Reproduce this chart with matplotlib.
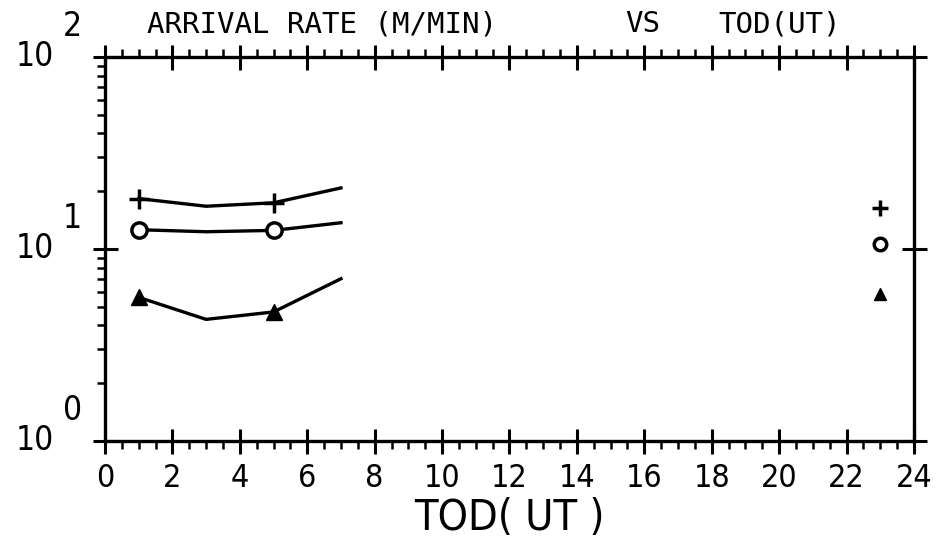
import numpy as np
import matplotlib
matplotlib.use("Agg")
import matplotlib.pyplot as plt
from matplotlib.ticker import MultipleLocator, LogLocator, NullFormatter
import matplotlib.transforms as mtransforms

# values
tod = [1, 3, 5, 7]
rate_plus = [18.3, 16.7, 17.4, 20.8]
rate_circle = [12.6, 12.3, 12.5, 13.7]
rate_triangle = [5.6, 4.3, 4.7, 7.0]

side_tod = 23
side_rates = [16.4, 10.6, 5.8]
side_markers = ['+', 'o', '^']

x_ticks = list(range(0, 25, 2))
y_exponents = [0, 1, 2]

W, H = 943, 546
fig = plt.figure(figsize=(W / 100, H / 100), dpi=100)
ax = fig.add_axes([105 / W, 1 - 441 / H, (914 - 105) / W, (441 - 57) / H])

ink = 'black'
lw = 2.4
ax.plot(tod, rate_plus, color=ink, lw=lw, marker='+', ms=15, mew=2.5,
        markevery=[0, 2])
ax.plot(tod, rate_circle, color=ink, lw=lw, marker='o', ms=11, mew=2.5,
        mfc='white', markevery=[0, 2])
ax.plot(tod, rate_triangle, color=ink, lw=lw, marker='^', ms=11,
        markevery=[0, 2])

for val, mk in zip(side_rates, side_markers):
    if mk == 'o':
        ax.plot([side_tod], [val], marker=mk, ms=9, mew=2.5, mfc='white', color=ink)
    elif mk == '+':
        ax.plot([side_tod], [val], marker=mk, ms=11, mew=2.5, color=ink)
    else:
        ax.plot([side_tod], [val], marker=mk, ms=8, color=ink)

ax.set_yscale('log')
ax.set_xlim(0, 24)
ax.set_ylim(1, 100)

for s in ax.spines.values():
    s.set_linewidth(2.4)

ax.xaxis.set_major_locator(MultipleLocator(2))
ax.xaxis.set_minor_locator(MultipleLocator(0.5))
ax.yaxis.set_major_locator(LogLocator(base=10, numticks=5))
ax.yaxis.set_minor_locator(LogLocator(base=10, subs=np.arange(2, 10), numticks=10))
ax.yaxis.set_minor_formatter(NullFormatter())

ax.tick_params(which='major', direction='inout', length=18, width=2.2,
               top=True, right=True, bottom=True, left=True)
ax.tick_params(which='minor', direction='out', length=6, width=1.8,
               top=True, bottom=True, left=True, right=False)
ax.tick_params(axis='x', which='major', labelsize=23, pad=7)
ax.set_xticks(x_ticks)
ax.set_xticklabels([str(t) for t in x_ticks], fontfamily='DejaVu Sans',
                   fontstretch='condensed')
ax.set_yticklabels([])

# y labels drawn as 10 with a big raised exponent, like the plotter did
trans = mtransforms.blended_transform_factory(fig.transFigure, ax.transData)
for e in y_exponents:
    ax.text(16 / W, 10 ** e, '10', transform=trans, fontsize=24,
            ha='left', va='center', clip_on=False, fontstretch='condensed')
    off = mtransforms.offset_copy(trans, fig=fig, x=0, y=30, units='dots')
    ax.text(63 / W, 10 ** e, str(e), transform=off, fontsize=24,
            ha='left', va='center', clip_on=False, fontstretch='condensed')

ax.set_xlabel('TOD( UT )', fontsize=31, labelpad=2, fontstretch='condensed')

title_y = 1 - 24 / H
for txt, xpix in [('ARRIVAL RATE (M/MIN)', 147), ('VS', 625), ('TOD(UT)', 718)]:
    fig.text(xpix / W, title_y, txt, fontsize=21,
             family='DejaVu Sans Mono', ha='left', va='center')

fig.savefig('out.png', dpi=100)
